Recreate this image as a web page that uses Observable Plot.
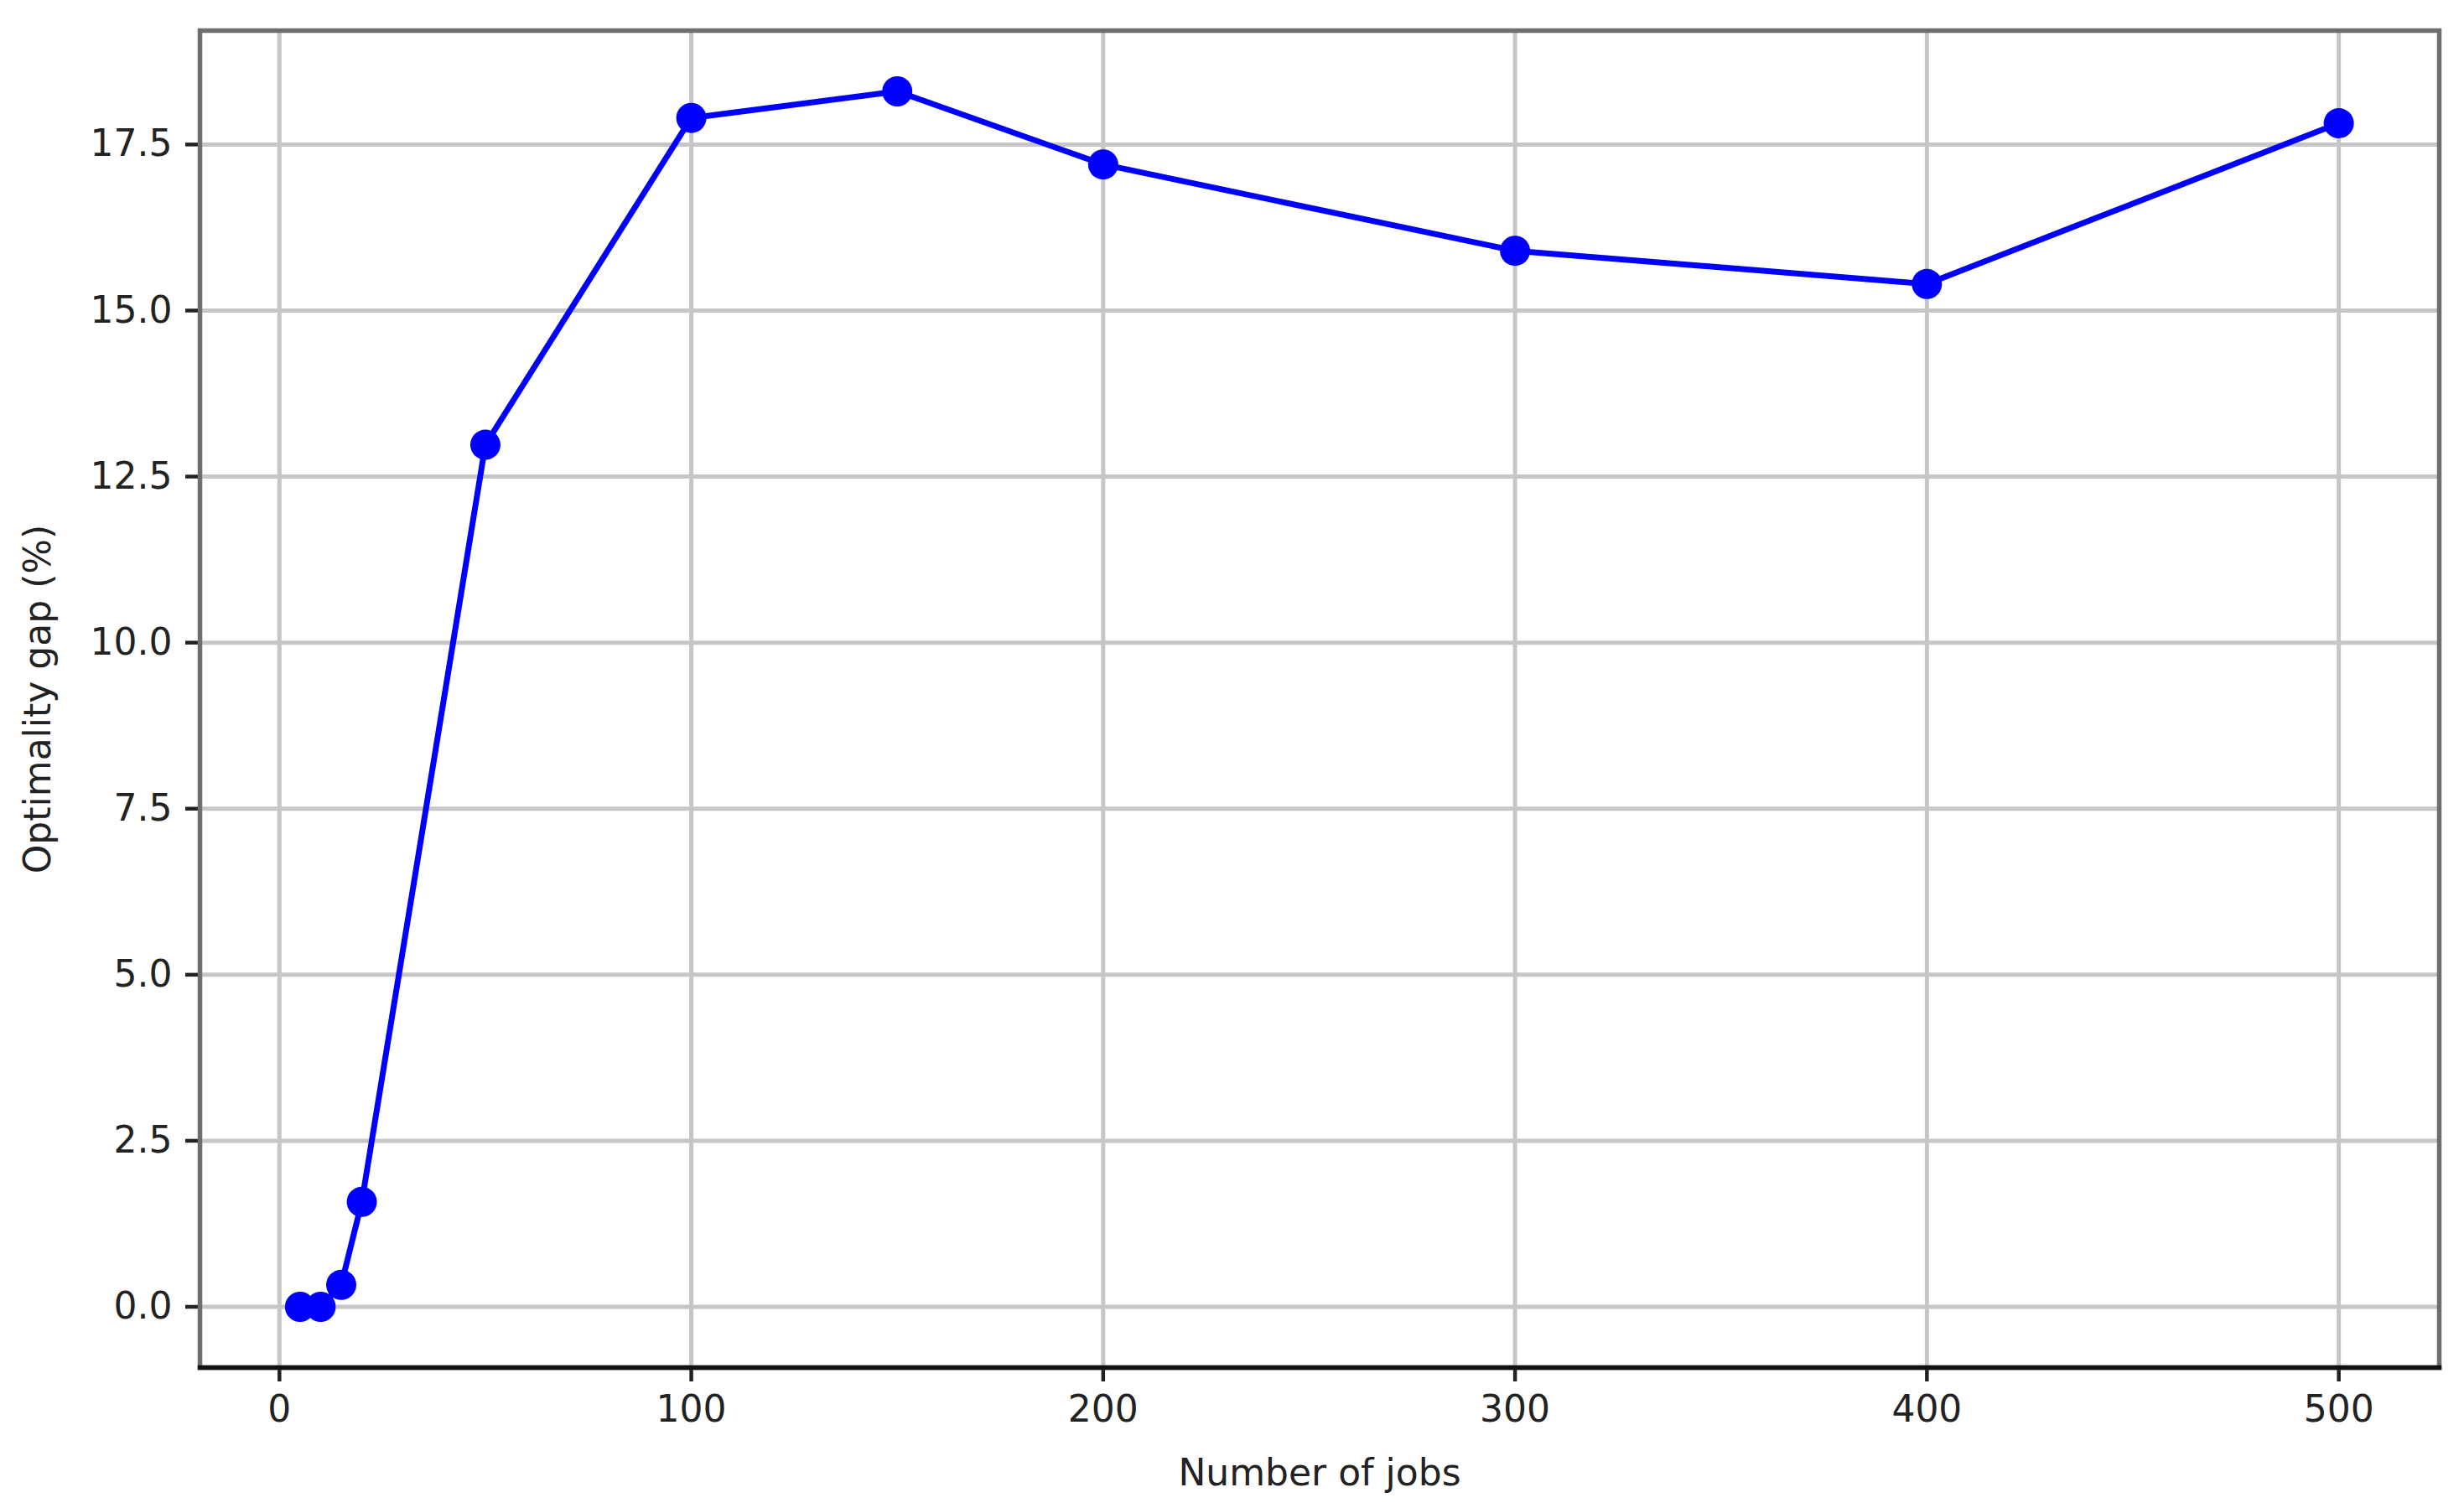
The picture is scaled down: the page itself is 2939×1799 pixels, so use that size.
<!DOCTYPE html>
<html>
<head>
<meta charset="utf-8">
<script src="https://cdn.jsdelivr.net/npm/d3@7"></script>
<script src="https://cdn.jsdelivr.net/npm/@observablehq/plot@0.6"></script>
<style>
  html, body { margin: 0; padding: 0; background: #fff; }
  #chart { width: 2939px; height: 1799px; }
  svg { font-family: "DejaVu Sans", sans-serif; }
</style>
</head>
<body>
<div id="chart"></div>
<script>
const jobs = [5, 10, 15, 20, 50, 100, 150, 200, 300, 400, 500];
const gap = [0.0, 0.0, 0.33, 1.58, 12.98, 17.9, 18.3, 17.2, 15.9, 15.4, 17.82];
const xTicks = [0, 100, 200, 300, 400, 500];
const yTicks = [0, 2.5, 5, 7.5, 10, 12.5, 15, 17.5];
const xLabel = "Number of jobs";
const yLabel = "Optimality gap (%)";

const data = jobs.map((j, i) => ({jobs: j, gap: gap[i]}));

const fs = 44;
const chart = Plot.plot({
  width: 2939,
  height: 1799,
  marginLeft: 238,
  marginRight: 30,
  marginTop: 36,
  marginBottom: 168,
  style: {fontFamily: "DejaVu Sans, sans-serif", fontSize: fs + "px", color: "#222", background: "#fff"},
  x: {domain: [-19.3, 524.4]},
  y: {domain: [-0.915, 19.215]},
  marks: [
    Plot.ruleX(xTicks, {stroke: "#c6c6c6", strokeWidth: 5}),
    Plot.ruleY(yTicks, {stroke: "#c6c6c6", strokeWidth: 5}),
    Plot.axisX(xTicks, {
      ticks: xTicks, tickSize: 17, tickPadding: 16, tickFormat: d => String(d),
      fontSize: fs, strokeWidth: 4.5, stroke: "#222",
      label: xLabel, labelAnchor: "center", labelArrow: "none", labelOffset: 140
    }),
    Plot.axisY(yTicks, {
      ticks: yTicks, tickSize: 17, tickPadding: 16, tickFormat: d => d.toFixed(1),
      fontSize: fs, strokeWidth: 4.5, stroke: "#222",
      label: yLabel, labelAnchor: "center", labelArrow: "none", labelOffset: 210
    }),
    Plot.frame({stroke: "#6e6e6e", strokeWidth: 5.5}),
    Plot.frame({anchor: "bottom", stroke: "#111", strokeWidth: 5.5}),
    Plot.line(data, {x: "jobs", y: "gap", stroke: "#0000ff", strokeWidth: 7}),
    Plot.dot(data, {x: "jobs", y: "gap", fill: "#0000ff", r: 18})
  ]
});
document.getElementById("chart").appendChild(chart);
</script>
</body>
</html>
